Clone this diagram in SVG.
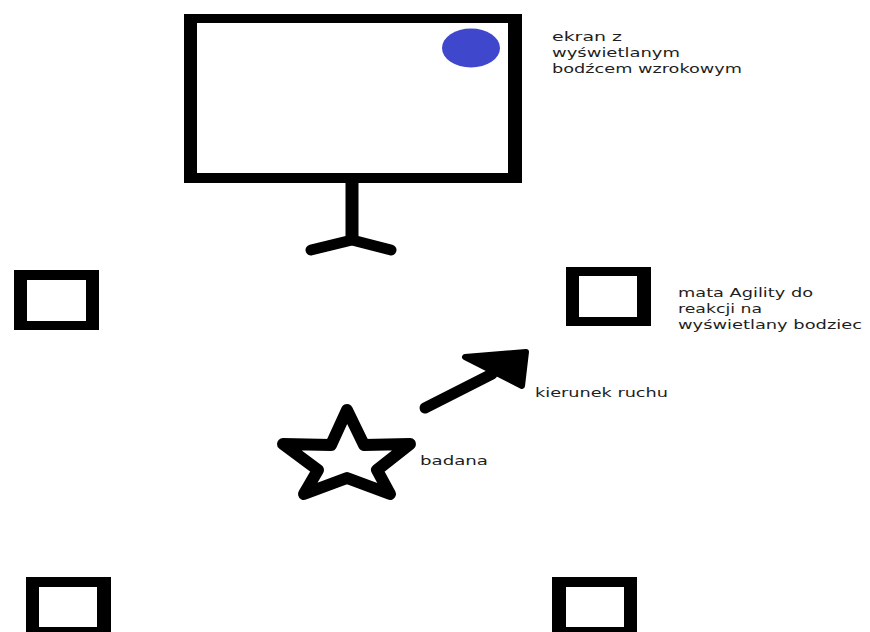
<svg xmlns="http://www.w3.org/2000/svg" width="870" height="632" viewBox="0 0 870 632">
<style>
.frame{fill:#000;fill-rule:evenodd}
.lbl{font-family:"DejaVu Sans","Verdana",sans-serif;font-size:13px;fill:#1e1e1e}
.thick{stroke:#000;fill:none}
</style>
<rect width="870" height="632" fill="#fff"/>
<g id="screen">
<path class="frame" d="M184,14 H522 V183 H184 Z M197,23 H508 V173 H197 Z"/>
<ellipse id="stimulus" cx="471" cy="48" rx="29" ry="19.5" fill="#3f48cc"/>
<line class="thick" x1="352" y1="183" x2="352" y2="243" stroke-width="13"/>
<polyline class="thick" points="311,250 352,240 391,250" stroke-width="11" stroke-linecap="round" stroke-linejoin="round"/>
</g>
<g id="label-screen">
<text class="lbl" x="552" y="41" textLength="70" lengthAdjust="spacingAndGlyphs">ekran  z</text>
<text class="lbl" x="552" y="57" textLength="128" lengthAdjust="spacingAndGlyphs">wyświetlanym</text>
<text class="lbl" x="552" y="73" textLength="190" lengthAdjust="spacingAndGlyphs">bodźcem wzrokowym</text>
</g>
<g id="mat-top-left"><path class="frame" d="M14,270 H99 V330 H14 Z M27,280 H86 V321 H27 Z"/></g>
<g id="mat-top-right"><path class="frame" d="M566,267 H651 V326 H566 Z M579,276 H637 V317 H579 Z"/></g>
<g id="mat-bottom-left"><path class="frame" d="M26,577 H111 V640 H26 Z M39,587 H97 V627 H39 Z"/></g>
<g id="mat-bottom-right"><path class="frame" d="M552,577 H637 V640 H552 Z M566,587 H624 V627 H566 Z"/></g>
<g id="label-mat">
<text class="lbl" x="678" y="297" textLength="135" lengthAdjust="spacingAndGlyphs">mata Agility do</text>
<text class="lbl" x="678" y="313" textLength="84" lengthAdjust="spacingAndGlyphs">reakcji na</text>
<text class="lbl" x="678" y="329" textLength="184" lengthAdjust="spacingAndGlyphs">wyświetlany bodziec</text>
</g>
<g id="star">
<polygon class="thick" stroke-width="12" stroke-linejoin="round" points="347,410 331,445 283,444 318,470 304,494 347,478 390,494 377,470 410,444 364,445"/>
<text class="lbl" x="420" y="465" textLength="68" lengthAdjust="spacingAndGlyphs">badana</text>
</g>
<g id="connectors">
<line class="thick" x1="425" y1="408" x2="492" y2="374" stroke-width="11" stroke-linecap="round"/>
<polygon points="465,357 526,352 522,386" fill="#000" stroke="#000" stroke-width="6" stroke-linejoin="round"/>
</g>
<g id="label-arrow">
<text class="lbl" x="535" y="397" textLength="133" lengthAdjust="spacingAndGlyphs">kierunek ruchu</text>
</g>
</svg>
